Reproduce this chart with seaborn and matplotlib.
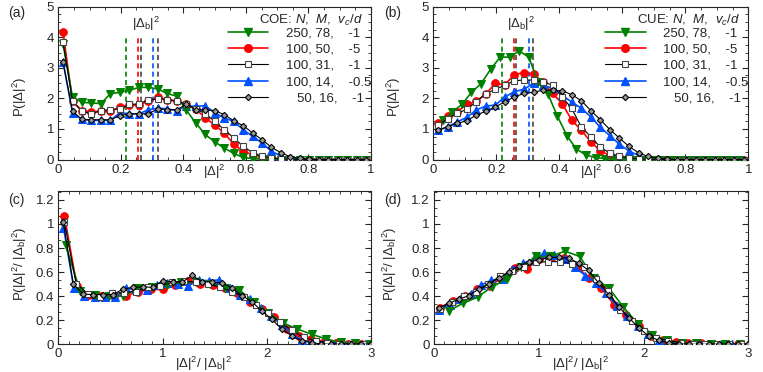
import numpy as np
import matplotlib
matplotlib.use("Agg")
import matplotlib.pyplot as plt
import seaborn as sns
from matplotlib.ticker import MultipleLocator, AutoMinorLocator, FormatStrFormatter
from matplotlib.lines import Line2D

# histogram bin centres
x_bins = (np.arange(33) + 0.5) / 33
x_bins_shift = np.arange(1, 33) / 33   # CUE N=250 set is on shifted bins

series_labels = ["250, 78,    -1", "100, 50,    -5", "100, 31,    -1",
                 "100, 14,    -0.5", "\u2007 50, 16,    -1"]

# |Delta_b|^2 for each set (dashed lines)
db2 = [0.218, 0.256, 0.264, 0.304, 0.318]

# COE, P(|Delta|^2)
coe_green = [3.78, 2.04, 1.87, 1.85, 1.83, 2.15, 2.2, 2.26, 2.36, 2.36, 2.31, 2.16,
             2.07, 1.62, 1.2, 0.82, 0.58, 0.38, 0.2, 0.07, 0.03, 0.01,
             0, 0, 0, 0, 0, 0, 0, 0, 0, 0, 0]
coe_red = [4.17, 1.9, 1.6, 1.56, 1.58, 1.58, 1.71, 1.78, 1.78, 1.91, 2.04, 1.96,
           1.91, 1.82, 1.65, 1.37, 1.13, 0.87, 0.51, 0.27, 0.16, 0.09, 0.05, 0.02,
           0.01, 0, 0, 0, 0, 0, 0, 0, 0]
coe_sq = [3.85, 1.91, 1.58, 1.5, 1.6, 1.63, 1.66, 1.8, 1.82, 1.95, 1.98, 1.96,
          1.91, 1.8, 1.66, 1.5, 1.25, 0.98, 0.71, 0.44, 0.22, 0.11, 0.05, 0.02,
          0.01, 0, 0, 0, 0, 0, 0, 0, 0]
coe_blue = [3.19, 1.53, 1.31, 1.28, 1.28, 1.28, 1.53, 1.5, 1.49, 1.63, 1.68, 1.66,
            1.6, 1.75, 1.74, 1.76, 1.53, 1.36, 1.25, 0.98, 0.76, 0.54, 0.27, 0.11,
            0.05, 0.02, 0, 0, 0, 0, 0, 0, 0]
coe_dia = [3.19, 1.58, 1.31, 1.3, 1.3, 1.3, 1.44, 1.49, 1.5, 1.49, 1.66, 1.63,
           1.63, 1.8, 1.63, 1.63, 1.6, 1.47, 1.27, 1.11, 0.87, 0.65, 0.4, 0.22,
           0.09, 0.04, 0.01, 0, 0, 0, 0, 0, 0]

# CUE, P(|Delta|^2)
cue_green = [1.28, 1.56, 1.8, 2.2, 2.48, 2.95, 3.35, 3.35, 3.55, 3.35, 2.52, 2.15,
             1.42, 0.78, 0.34, 0.15, 0.06, 0.03, 0.01,
             0, 0, 0, 0, 0, 0, 0, 0, 0, 0, 0, 0, 0]
cue_red = [1.18, 1.42, 1.56, 1.81, 1.9, 2.15, 2.49, 2.45, 2.78, 2.84, 2.8, 2.52,
           2.16, 1.83, 1.29, 0.96, 0.58, 0.28, 0.14, 0.09, 0.05, 0.03, 0.01,
           0, 0, 0, 0, 0, 0, 0, 0, 0, 0]
cue_sq = [1.12, 1.34, 1.51, 1.64, 1.89, 2.15, 2.3, 2.43, 2.58, 2.6, 2.6, 2.54,
          2.43, 2.05, 1.67, 1.07, 0.74, 0.41, 0.2, 0.11, 0.05, 0.02, 0.01,
          0, 0, 0, 0, 0, 0, 0, 0, 0, 0]
cue_blue = [0.95, 1.07, 1.23, 1.38, 1.62, 1.75, 1.78, 2.05, 2.22, 2.3, 2.49, 2.43,
            2.33, 2.1, 1.88, 1.68, 1.4, 1.05, 0.78, 0.5, 0.28, 0.13, 0.05, 0.02,
            0, 0, 0, 0, 0, 0, 0, 0, 0]
cue_dia = [0.96, 1.07, 1.18, 1.27, 1.45, 1.58, 1.72, 1.89, 2.05, 2.16, 2.2, 2.27,
           2.27, 2.25, 2.12, 1.93, 1.6, 1.3, 0.98, 0.7, 0.43, 0.22, 0.1, 0.04,
           0.01, 0, 0, 0, 0, 0, 0, 0, 0]

styles = [
    dict(color="#008000", marker="v", markersize=5.5, markerfacecolor="#008000",
         markeredgecolor="#008000", linewidth=1.2, zorder=4),
    dict(color="#ff0000", marker="o", markersize=5.5, markerfacecolor="#ff0000",
         markeredgecolor="#ff0000", linewidth=1.2, zorder=2),
    dict(color="black", marker="s", markersize=4, markerfacecolor="white",
         markeredgecolor="#444444", markeredgewidth=0.8, linewidth=0.8, zorder=5),
    dict(color="#0050ff", marker="^", markersize=5.5, markerfacecolor="#0050ff",
         markeredgecolor="#0050ff", linewidth=1.2, zorder=3),
    dict(color="black", marker="D", markersize=3.2, markerfacecolor="#999999",
         markeredgecolor="black", markeredgewidth=0.8, linewidth=0.8, zorder=6),
]
dash_colors = ["#008000", "#ff0000", "#444444", "#0050ff", "#444444"]

sns.set_style("ticks")
plt.rcParams["font.family"] = ["Liberation Sans", "DejaVu Sans"]
plt.rcParams["mathtext.fontset"] = "custom"
plt.rcParams["mathtext.rm"] = "Liberation Sans"
plt.rcParams["mathtext.it"] = "Liberation Sans:italic"
plt.rcParams["font.size"] = 9.5

fig = plt.figure(figsize=(7.63, 3.72), dpi=100)
ax_a = fig.add_axes([0.0764, 0.5712, 0.4098, 0.4108])
ax_b = fig.add_axes([0.5679, 0.5712, 0.4128, 0.4108])
ax_c = fig.add_axes([0.0764, 0.0745, 0.4098, 0.4108])
ax_d = fig.add_axes([0.5688, 0.0745, 0.4119, 0.4108])

coe = [coe_green, coe_red, coe_sq, coe_blue, coe_dia]
cue = [cue_green, cue_red, cue_sq, cue_blue, cue_dia]
coe_x = [x_bins] * 5
cue_x = [x_bins_shift] + [x_bins] * 4


def draw(ax, xs, ys, scaled):
    for x, y, d, st in zip(xs, ys, db2, styles):
        x = np.asarray(x)
        y = np.asarray(y)
        if scaled:  # normalise by |Delta_b|^2
            x, y = x / d, y * d
        sns.lineplot(x=x, y=y, ax=ax, legend=False, **st)


def style_axes(ax, xmax, ymax, xmaj, xminor_n, ymaj, yminor_n):
    ax.set_xlim(0, xmax)
    ax.set_ylim(0, ymax)
    ax.xaxis.set_major_locator(MultipleLocator(xmaj))
    ax.yaxis.set_major_locator(MultipleLocator(ymaj))
    ax.xaxis.set_minor_locator(AutoMinorLocator(xminor_n))
    ax.yaxis.set_minor_locator(AutoMinorLocator(yminor_n))
    ax.xaxis.set_major_formatter(FormatStrFormatter("%g"))
    ax.yaxis.set_major_formatter(FormatStrFormatter("%g"))
    ax.tick_params(which="both", direction="in", top=True, right=True, labelsize=9.5, pad=3)
    ax.tick_params(which="major", length=4, width=0.8)
    ax.tick_params(which="minor", length=2, width=0.6)
    for s in ax.spines.values():
        s.set_linewidth(0.8)


tag_x = [0.022, 0.515]
for i, (ax, xs, ys, ens, tag) in enumerate([(ax_a, coe_x, coe, "COE", "(a)"),
                                             (ax_b, cue_x, cue, "CUE", "(b)")]):
    draw(ax, xs, ys, False)
    for d, c in zip(db2, dash_colors):
        ax.plot([d, d], [0, 4.0], color=c, linestyle=(0, (3, 2)), linewidth=1.2, zorder=1)
    ax.text(0.28, 4.45, r"$|\Delta_{\mathrm{b}}|^2$", ha="center", va="center", fontsize=9.5)
    style_axes(ax, 1, 5, 0.2, 4, 1, 4)
    ax.set_xlabel(r"$|\Delta|^2$", va="center")
    ax.set_ylabel(r"P($|\Delta|^2$)")
    ax.xaxis.set_label_coords(0.5, -0.082)
    ax.yaxis.set_label_coords(-0.095, 0.41)
    handles = [Line2D([], [], **{k: v for k, v in st.items() if k != "zorder"}) for st in styles]
    ax.legend(handles, series_labels, loc="upper right", bbox_to_anchor=(1.0, 0.865),
              frameon=False, fontsize=9.5, handlelength=3.1, labelspacing=0.3,
              handletextpad=1.3, borderaxespad=0, borderpad=0)
    ax.text(0.975, 0.913, ens + r": $N$,  $M$,  $v_c/d$", transform=ax.transAxes,
            ha="right", va="center", fontsize=9.5)
    fig.text(tag_x[i], 0.965, tag, fontsize=10, ha="center", va="center")

for i, (ax, xs, ys, tag) in enumerate([(ax_c, coe_x, coe, "(c)"), (ax_d, cue_x, cue, "(d)")]):
    draw(ax, xs, ys, True)
    style_axes(ax, 3, 1.27, 1, 10, 0.2, 3)
    ax.set_xlabel(r"$|\Delta|^2$/ $|\Delta_{\mathrm{b}}|^2$", va="center")
    ax.set_ylabel(r"P($|\Delta|^2$/ $|\Delta_{\mathrm{b}}|^2$)")
    ax.xaxis.set_label_coords(0.465, -0.13)
    ax.yaxis.set_label_coords(-0.095 if i == 0 else -0.11, 0.53)
    fig.text(tag_x[i], 0.462, tag, fontsize=10, ha="center", va="center")

fig.savefig("out.png", dpi=100)
